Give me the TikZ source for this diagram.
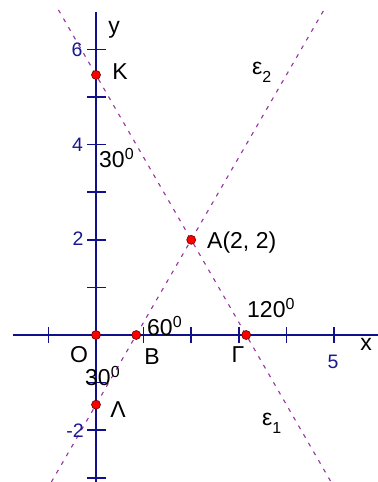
\documentclass[tikz,border=0pt]{standalone}
\usepackage{fontspec}
\setmainfont{Liberation Sans}
\definecolor{axisblue}{RGB}{16,16,138}
\definecolor{numblue}{RGB}{25,25,145}
\definecolor{linepurple}{RGB}{150,50,160}
\begin{document}
\begin{tikzpicture}[x=1bp,y=-1bp,
  axis/.style={draw=axisblue, line width=1.6bp},
  eline/.style={draw=linepurple, line width=1.1bp, dash pattern=on 4bp off 6bp},
  pt/.style={fill=red, draw=black!60!red, line width=0.6bp},
  lbl/.style={font=\fontsize{23bp}{25bp}\selectfont, text=black, inner sep=0pt, anchor=base},
  lblw/.style={lbl, anchor=base west},
  num/.style={font=\fontsize{19.5bp}{21bp}\selectfont, text=numblue, inner sep=0pt, anchor=base}]
\newcommand{\supz}{\raisebox{8bp}{\fontsize{16bp}{16bp}\selectfont 0}}
\newcommand{\subx}[1]{\raisebox{-8bp}{\fontsize{16bp}{16bp}\selectfont #1}}
\useasboundingbox (0,0) rectangle (377,482);
\begin{scope}[shift={(96,335)}, x=47.6bp, y=47.6bp]
  % points
  \coordinate (O) at (0,0);
  \coordinate (K) at (0,5.4641);
  \coordinate (A) at (2,2);
  \coordinate (B) at (0.8453,0);
  \coordinate (G) at (3.1547,0);
  \coordinate (L) at (0,-1.4641);
  % axis ends
  \coordinate (xl) at (-1.744,0);
  \coordinate (xr) at (5.95,0);
  \coordinate (yt) at (0,6.786);
  \coordinate (yb) at (0,-3.15);
  % line ends
  \coordinate (e1a) at (-0.7887,6.83);
  \coordinate (e1b) at (4.9387,-3.09);
  \coordinate (e2a) at (4.7887,6.83);
  \coordinate (e2b) at (-0.9387,-3.09);
  % axes
  \draw[axis] (xl) -- (xr);
  \draw[axis] (yb) -- (yt);
  \foreach \i in {-1,1,2,3,4,5}
    \draw[axis] (\i,-0.168) -- (\i,0.168);
  \foreach \j in {-3,-2,-1,1,2,3,4,5,6}
    \draw[axis] (-0.18,\j) -- (0.2,\j);
  % lines
  \draw[eline] (e1a) -- (K) -- (A) -- (G) -- (e1b);
  \draw[eline] (e2b) -- (L) -- (B) -- (A) -- (e2a);
  % dots
  \foreach \p in {O,K,A,B,G,L}
    \draw[pt] (\p) circle (4.5bp);
\end{scope}
% tick labels
\node[num] (n6) at (77,57) {6};
\node[num] (n4) at (77.5,152) {4};
\node[num] (n2) at (78,245) {2};
\node[num] (nm2) at (75,437) {-2};
\node[num] (n5) at (333,368) {5};
% axis names
\node[lbl] (ly) at (114,34) {y};
\node[lbl] (lx) at (366,350) {x};
% point labels
\node[lbl] (lK) at (120,80) {K};
\node[lbl] (lO) at (79,362) {O};
\node[lbl] (lB) at (152,364) {B};
\node[lbl] (lG) at (238,362) {Γ};
\node[lbl] (lL) at (118,417) {Λ};
\node[lblw] (lA) at (207,248) {A(2, 2)};
% angles
\node[lblw] (a30t) at (99,168) {30\supz};
\node[lblw] (a60) at (147,335) {60\supz};
\node[lblw] (a120) at (247,317) {120\supz};
\node[lblw] (a30b) at (85,385) {30\supz};
% line names
\node[lblw] (le2) at (252,75) {ε\subx{2}};
\node[lblw] (le1) at (262,425) {ε\subx{1}};
\end{tikzpicture}
\end{document}
